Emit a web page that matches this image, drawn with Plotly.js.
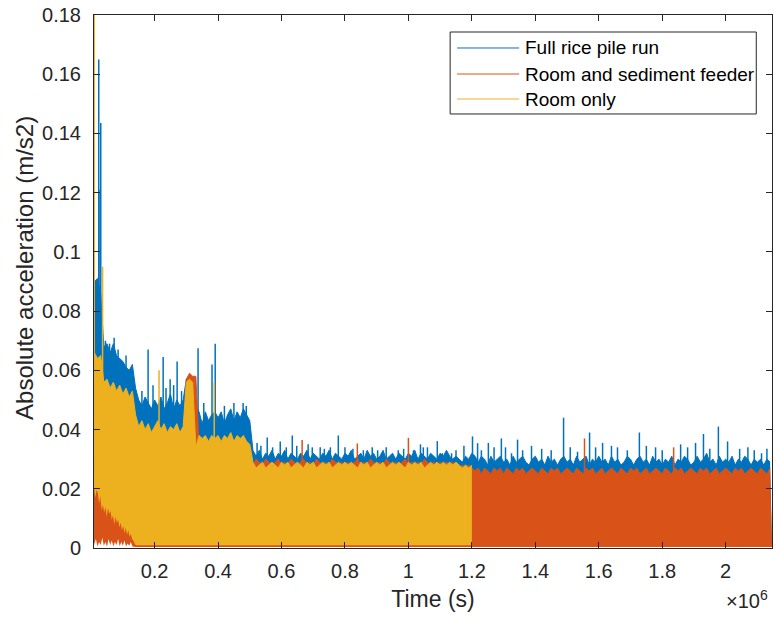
<!DOCTYPE html>
<html>
<head>
<meta charset="utf-8">
<script src="https://cdn.plot.ly/plotly-3.0.1.min.js"></script>
<style>html,body{margin:0;padding:0;background:#fff;}#chart{width:774px;height:619px;}</style>
</head>
<body>
<div id="chart"></div>
<script>
// Time in units of 10^6 s
const timeGrid = [
0.01,0.02,0.03,0.04,0.05,0.06,0.07,0.08,0.09,0.10,
0.11,0.12,0.13,0.14,0.15,0.16,0.17,0.18,0.19,0.20,
0.21,0.22,0.23,0.24,0.25,0.26,0.27,0.28,0.29,0.30,
0.31,0.32,0.33,0.34,0.35,0.36,0.37,0.38,0.39,0.40,
0.41,0.42,0.43,0.44,0.45,0.46,0.47,0.48,0.49,0.50,
0.51,0.52,0.53,0.54,0.55,0.56,0.57,0.58,0.59,0.60,
0.61,0.62,0.63,0.64,0.65,0.66,0.67,0.68,0.69,0.70,
0.71,0.72,0.73,0.74,0.75,0.76,0.77,0.78,0.79,0.80,
0.81,0.82,0.83,0.84,0.85,0.86,0.87,0.88,0.89,0.90,
0.91,0.92,0.93,0.94,0.95,0.96,0.97,0.98,0.99,1.00,
1.01,1.02,1.03,1.04,1.05,1.06,1.07,1.08,1.09,1.10,
1.11,1.12,1.13,1.14,1.15,1.16,1.17,1.18,1.19,1.20,
1.21,1.22,1.23,1.24,1.25,1.26,1.27,1.28,1.29,1.30,
1.31,1.32,1.33,1.34,1.35,1.36,1.37,1.38,1.39,1.40,
1.41,1.42,1.43,1.44,1.45,1.46,1.47,1.48,1.49,1.50,
1.51,1.52,1.53,1.54,1.55,1.56,1.57,1.58,1.59,1.60,
1.61,1.62,1.63,1.64,1.65,1.66,1.67,1.68,1.69,1.70,
1.71,1.72,1.73,1.74,1.75,1.76,1.77,1.78,1.79,1.80,
1.81,1.82,1.83,1.84,1.85,1.86,1.87,1.88,1.89,1.90,
1.91,1.92,1.93,1.94,1.95,1.96,1.97,1.98,1.99,2.00,
2.01,2.02,2.03,2.04,2.05,2.06,2.07,2.08,2.09,2.10,
2.11,2.12,2.13,2.14];

// Full rice pile run: upper envelope of the absolute acceleration (m/s2)
const fullRiceTop = [
0.090,0.091,0.086,0.068,0.069,0.066,0.069,0.065,0.064,0.063,
0.061,0.060,0.062,0.054,0.050,0.048,0.051,0.049,0.047,0.050,
0.048,0.051,0.047,0.049,0.052,0.047,0.050,0.048,0.050,0.057,
0.058,0.057,0.048,0.046,0.042,0.046,0.043,0.045,0.046,0.044,
0.046,0.042,0.045,0.047,0.043,0.046,0.044,0.047,0.045,0.043,
0.033,0.031,0.033,0.030,0.032,0.031,0.033,0.030,0.032,0.031,
0.033,0.030,0.032,0.031,0.030,0.032,0.031,0.033,0.030,0.032,
0.031,0.030,0.032,0.031,0.033,0.030,0.032,0.031,0.030,0.032,
0.031,0.033,0.030,0.031,0.032,0.030,0.033,0.031,0.032,0.030,
0.031,0.033,0.030,0.031,0.032,0.030,0.032,0.031,0.030,0.032,
0.031,0.033,0.030,0.032,0.031,0.030,0.032,0.031,0.030,0.032,
0.031,0.033,0.031,0.030,0.031,0.030,0.029,0.031,0.030,0.032,
0.031,0.029,0.031,0.030,0.028,0.031,0.029,0.030,0.031,0.029,
0.030,0.028,0.031,0.029,0.030,0.031,0.029,0.028,0.030,0.031,
0.029,0.030,0.028,0.031,0.029,0.030,0.028,0.030,0.031,0.029,
0.030,0.028,0.031,0.029,0.030,0.031,0.028,0.030,0.029,0.031,
0.029,0.030,0.028,0.031,0.029,0.030,0.028,0.029,0.031,0.030,
0.028,0.030,0.031,0.029,0.030,0.028,0.031,0.029,0.030,0.028,
0.030,0.029,0.031,0.028,0.030,0.029,0.031,0.030,0.028,0.029,
0.031,0.029,0.030,0.032,0.029,0.030,0.028,0.031,0.029,0.030,
0.029,0.031,0.028,0.030,0.029,0.031,0.030,0.028,0.030,0.029,
0.030,0.028,0.030,0.029];
const fullRiceLowTime = [0.009, 0.135, 0.14, 2.146];
const fullRiceLow = [0.004, 0.004, 0.001, 0.001];
const fullRiceSpikeTime = [0.024,0.028,0.0303,0.045,0.058,0.0725,0.085,0.11,0.16,0.1795,0.195,0.227,0.236,0.249,
  0.26,0.271,0.285,0.337,0.355,0.381,0.391,0.42,0.45,0.479,0.489,
  0.523,0.535,0.555,0.572,0.596,0.615,0.634,0.648,0.684,0.697,0.722,0.735,0.754,0.779,0.80,0.825,0.858,0.886,
  0.903,0.93,0.968,0.985,1.016,1.038,1.047,1.06,1.091,1.107,1.123,1.136,1.15,1.175,1.202,1.218,1.23,1.252,
  1.27,1.293,1.306,1.325,1.344,1.36,1.388,1.42,1.45,1.489,1.51,1.533,1.571,1.59,1.612,1.64,1.659,1.69,1.728,
  1.75,1.779,1.80,1.858,1.88,1.905,1.930,1.95,1.977,2.006,2.044,2.07,2.09,2.113,2.13];
const fullRiceSpike = [0.165,0.121,0.1435,0.070,0.069,0.071,0.067,0.065,0.053,0.067,0.055,0.0645,0.054,0.057,
  0.055,0.063,0.053,0.0675,0.049,0.062,0.069,0.048,0.049,0.049,0.048,
  0.0355,0.0345,0.0373,0.034,0.036,0.034,0.038,0.0345,0.035,0.034,0.034,0.0335,0.034,0.038,0.034,0.0335,0.033,0.034,
  0.033,0.034,0.033,0.0335,0.033,0.035,0.034,0.034,0.0361,0.032,0.032,0.032,0.033,0.0345,0.0377,0.0354,0.033,0.0355,
  0.034,0.037,0.034,0.032,0.0366,0.033,0.0345,0.0335,0.033,0.044,0.034,0.0325,0.039,0.034,0.0355,0.0345,0.034,0.033,0.039,
  0.0345,0.034,0.033,0.035,0.034,0.0355,0.0385,0.0335,0.041,0.036,0.0335,0.034,0.033,0.032,0.0335];

// Room and sediment feeder
const feederTop = [
0.050,0.048,0.047,0.045,0.046,0.044,0.045,0.043,0.044,0.042,
0.043,0.042,0.041,0.037,0.036,0.035,0.036,0.034,0.035,0.036,
0.035,0.034,0.036,0.035,0.034,0.036,0.035,0.034,0.036,0.057,
0.059,0.058,0.058,0.035,0.034,0.035,0.034,0.036,0.035,0.034,
0.035,0.034,0.036,0.035,0.034,0.035,0.036,0.034,0.035,0.034,
0.028,0.030,0.029,0.028,0.030,0.029,0.028,0.029,0.030,0.028,
0.029,0.028,0.030,0.029,0.028,0.029,0.030,0.028,0.029,0.028,
0.030,0.029,0.028,0.029,0.028,0.030,0.029,0.028,0.029,0.028,
0.029,0.028,0.029,0.030,0.028,0.029,0.028,0.030,0.029,0.028,
0.029,0.028,0.030,0.029,0.028,0.029,0.028,0.029,0.030,0.028,
0.029,0.028,0.029,0.028,0.030,0.029,0.028,0.029,0.028,0.029,
0.028,0.029,0.028,0.029,0.028,0.027,0.028,0.027,0.028,0.027,
0.026,0.027,0.025,0.027,0.026,0.025,0.027,0.026,0.027,0.025,
0.027,0.026,0.025,0.027,0.026,0.027,0.025,0.026,0.027,0.026,
0.025,0.027,0.026,0.025,0.027,0.026,0.027,0.025,0.026,0.027,
0.026,0.025,0.027,0.026,0.025,0.027,0.026,0.027,0.025,0.026,
0.027,0.025,0.026,0.027,0.026,0.025,0.027,0.026,0.025,0.027,
0.026,0.027,0.025,0.026,0.027,0.025,0.026,0.027,0.026,0.025,
0.027,0.026,0.025,0.027,0.026,0.027,0.025,0.026,0.027,0.026,
0.025,0.027,0.026,0.027,0.025,0.026,0.027,0.025,0.026,0.027,
0.026,0.025,0.027,0.026,0.027,0.025,0.026,0.027,0.026,0.025,
0.027,0.026,0.025,0.027];
const feederLowTime = [0.009,0.015,0.02,0.025,0.03,0.035,0.04,0.045,0.05,0.055,0.06,0.065,0.07,0.075,
  0.08,0.085,0.09,0.095,0.10,0.105,0.11,0.115,0.12,0.125,0.13,0.14,2.146];
const feederLow = [0.001,0.003,0.0005,0.002,0.001,0.0035,0.0008,0.002,0.0005,0.003,0.001,0.0025,0.0005,0.002,
  0.001,0.003,0.0006,0.002,0.0008,0.0025,0.0005,0.0015,0.0008,0.002,0.0005,0.0003,0.0003];
const feederSpikeTime = [0.665, 0.839, 1.000, 1.555, 1.836];
const feederSpike = [0.0365, 0.0353, 0.0372, 0.037, 0.034];

// Room only (ends at 1.2 x 10^6 s)
const roomTop = [
0.066,0.064,0.065,0.056,0.057,0.054,0.056,0.053,0.055,0.052,
0.054,0.051,0.053,0.045,0.041,0.043,0.040,0.042,0.039,0.041,
0.043,0.040,0.042,0.039,0.041,0.040,0.042,0.039,0.041,0.056,
0.057,0.056,0.034,0.038,0.037,0.038,0.036,0.038,0.037,0.038,
0.036,0.038,0.037,0.039,0.036,0.038,0.037,0.038,0.036,0.035,
0.029,0.027,0.028,0.029,0.027,0.028,0.029,0.028,0.027,0.029,
0.028,0.029,0.027,0.028,0.029,0.028,0.027,0.029,0.028,0.029,
0.027,0.028,0.029,0.028,0.029,0.027,0.028,0.029,0.028,0.029,
0.028,0.029,0.028,0.027,0.029,0.028,0.029,0.027,0.028,0.029,
0.028,0.029,0.027,0.028,0.029,0.028,0.029,0.028,0.027,0.029,
0.028,0.029,0.028,0.029,0.027,0.028,0.029,0.028,0.029,0.028,
0.029,0.028,0.029,0.028,0.029,0.028,0.027,0.028,0.027,0.028];
const roomLowTime = [0.009,0.013,0.017,0.021,0.025,0.029,0.033,0.037,0.041,0.045,0.049,0.053,0.057,0.061,
  0.065,0.069,0.073,0.077,0.081,0.085,0.089,0.093,0.097,0.101,0.105,0.109,0.113,0.117,0.121,0.125,0.129,
  0.133,0.137,0.141,1.20];
const roomLow = [0.0206,0.017,0.0195,0.0186,0.015,0.0175,0.0128,0.0145,0.012,0.0138,0.0105,0.0135,0.0115,
  0.0125,0.0095,0.011,0.008,0.0105,0.0085,0.0095,0.007,0.0085,0.006,0.0075,0.005,0.0068,0.0045,0.006,
  0.0037,0.0048,0.003,0.0025,0.0015,0.0009,0.0009];
const roomSpikeTime = [0.0095, 0.036, 0.214, 0.388];
const roomSpike = [0.19, 0.095, 0.060, 0.056];

const xTickVals = [0.2,0.4,0.6,0.8,1.0,1.2,1.4,1.6,1.8,2.0];
const xTickText = ['0.2','0.4','0.6','0.8','1','1.2','1.4','1.6','1.8','2'];
const yTickVals = [0,0.02,0.04,0.06,0.08,0.1,0.12,0.14,0.16,0.18];
const yTickText = ['0','0.02','0.04','0.06','0.08','0.1','0.12','0.14','0.16','0.18'];
const seriesNames = ['Full rice pile run','Room and sediment feeder','Room only'];

const BLUE = '#0072BD', ORANGE = '#D95319', YELLOW = '#EDB120';

function spikeSegments(times, tops, base) {
  const xs = [], ys = [];
  for (let i = 0; i < times.length; i++) {
    xs.push(times[i], times[i], null);
    ys.push(base, tops[i], null);
  }
  return {xs, ys};
}
function band(lowX, lowY, topX, topY, color) {
  return [
    {x: lowX, y: lowY, type: 'scatter', mode: 'lines', line: {width: 0, color: color}, showlegend: false, hoverinfo: 'skip'},
    {x: topX, y: topY, type: 'scatter', mode: 'lines', fill: 'tonexty', fillcolor: color,
     line: {width: 1, color: color}, showlegend: false, hoverinfo: 'skip'}
  ];
}
function spikes(times, tops, base, color) {
  const s = spikeSegments(times, tops, base);
  return {x: s.xs, y: s.ys, type: 'scatter', mode: 'lines', line: {width: 1.5, color: color},
          showlegend: false, hoverinfo: 'skip', connectgaps: false};
}

const traces = [];
traces.push(...band(fullRiceLowTime, fullRiceLow, timeGrid, fullRiceTop, BLUE));
traces.push(spikes(fullRiceSpikeTime, fullRiceSpike, 0.02, BLUE));
traces.push(...band(feederLowTime, feederLow, timeGrid, feederTop, ORANGE));
traces.push(spikes(feederSpikeTime, feederSpike, 0.02, ORANGE));
traces.push(...band(roomLowTime, roomLow, timeGrid.slice(0, roomTop.length), roomTop, YELLOW));
traces.push(spikes(roomSpikeTime, roomSpike, 0.03, YELLOW));

const FONT = 'Liberation Sans, Arial, Helvetica, sans-serif';
const INK = '#262626';

// custom MATLAB-style legend (paper coordinates)
const legendRows = [0.9381, 0.8893, 0.8424];
const legendColors = [BLUE, ORANGE, YELLOW];
const shapes = [{type: 'rect', xref: 'paper', yref: 'paper', x0: 0.5253, x1: 0.9768, y0: 0.8143, y1: 0.9681,
  fillcolor: '#ffffff', line: {color: INK, width: 1}, layer: 'above'}];
const annotations = [];
for (let i = 0; i < 3; i++) {
  shapes.push({type: 'line', xref: 'paper', yref: 'paper', x0: 0.5356, x1: 0.6271, y0: legendRows[i], y1: legendRows[i],
    line: {color: legendColors[i], width: 1}, layer: 'above'});
  annotations.push({xref: 'paper', yref: 'paper', x: 0.6330, y: legendRows[i], xanchor: 'left', yanchor: 'middle',
    text: seriesNames[i], showarrow: false, font: {family: FONT, size: 19, color: '#000000'}});
}
annotations.push({xref: 'paper', yref: 'paper', x: -0.1033, y: 0.5253, xanchor: 'center', yanchor: 'middle',
  text: 'Absolute acceleration (m/s2)', textangle: -90, showarrow: false, font: {family: FONT, size: 24, color: INK}});
annotations.push({xref: 'paper', yref: 'paper', x: 0.9975, y: -0.0957, xanchor: 'right', yanchor: 'middle',
  text: '\u00d710<sup>6</sup>', showarrow: false, font: {family: FONT, size: 20, color: INK}});

const layout = {
  width: 774, height: 619,
  margin: {l: 94, r: 2, t: 15, b: 71},
  paper_bgcolor: '#ffffff', plot_bgcolor: '#ffffff',
  showlegend: false,
  font: {family: FONT, color: INK},
  xaxis: {
    range: [0.009, 2.146], tickvals: xTickVals, ticktext: xTickText,
    ticks: 'inside', ticklen: 6, tickwidth: 1, tickcolor: INK,
    showline: true, linecolor: INK, linewidth: 1, mirror: 'ticks',
    showgrid: false, zeroline: false,
    tickfont: {family: FONT, size: 20, color: INK}, ticklabelstandoff: 5,
    title: {text: 'Time (s)', font: {family: FONT, size: 23, color: INK}, standoff: 9}
  },
  yaxis: {
    range: [0, 0.18], tickvals: yTickVals, ticktext: yTickText,
    ticks: 'inside', ticklen: 6, tickwidth: 1, tickcolor: INK,
    showline: true, linecolor: INK, linewidth: 1, mirror: 'ticks',
    showgrid: false, zeroline: false,
    tickfont: {family: FONT, size: 20, color: INK}, ticklabelstandoff: 8
  },
  shapes: shapes,
  annotations: annotations
};

Plotly.newPlot('chart', traces, layout, {staticPlot: true, displayModeBar: false});
</script>
</body>
</html>
